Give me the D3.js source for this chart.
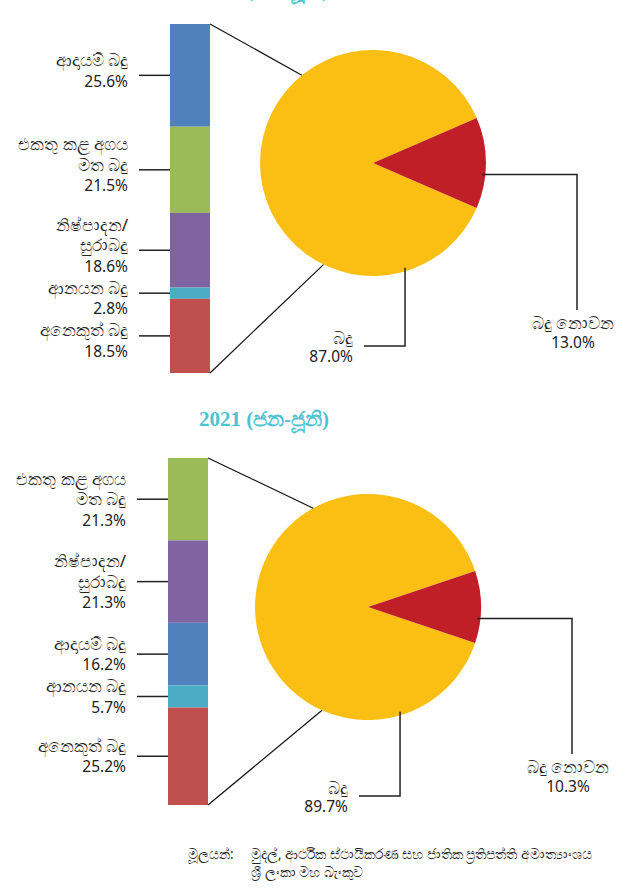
<!DOCTYPE html>
<html>
<head>
<meta charset="utf-8">
<script src="https://cdn.jsdelivr.net/npm/d3@7"></script>
<style>
  body { margin: 0; background: #fff; }
  svg { display: block; }
  .lbl { font-family: "Noto Sans", "DejaVu Sans", sans-serif; font-size: 15.5px; fill: #222; }
  .lbl .si { font-size: 17px; }
  .title { font-family: "Liberation Serif", "DejaVu Serif", serif; font-weight: bold; font-size: 21px; fill: #4cc3d2; }
  .src { font-family: "Noto Sans", "DejaVu Sans", sans-serif; font-size: 13.5px; fill: #222; }
</style>
</head>
<body>
<script>
// periods
var periods = ["2020 (ජන-ජූනි)", "2021 (ජන-ජූනි)"];

// tax breakdown (bar), top to bottom
var taxCats2020 = ["ආදායම් බදු", "එකතු කළ අගය\nමත බදු", "නිෂ්පාදන/\nසුරාබදු", "ආනයන බදු", "අනෙකුත් බදු"];
var taxVals2020 = [25.6, 21.5, 18.6, 2.8, 18.5];
var taxCats2021 = ["එකතු කළ අගය\nමත බදු", "නිෂ්පාදන/\nසුරාබදු", "ආදායම් බදු", "ආනයන බදු", "අනෙකුත් බදු"];
var taxVals2021 = [21.3, 21.3, 16.2, 5.7, 25.2];

// revenue split (pie)
var pieCats = ["බදු", "බදු නොවන"];
var pieVals2020 = [87.0, 13.0];
var pieVals2021 = [89.7, 10.3];

var sourceLines = ["මූලයන්:", "මුදල්, ආර්ථික ස්ථායීකරණ සහ ජාතික ප්‍රතිපත්ති අමාත්‍යාංශය", "ශ්‍රී ලංකා මහ බැංකුව"];

var w = 631, h = 896;

var catColor = d3.scaleOrdinal()
    .domain(["ආදායම් බදු", "එකතු කළ අගය\nමත බදු", "නිෂ්පාදන/\nසුරාබදු", "ආනයන බදු", "අනෙකුත් බදු"])
    .range(["#4f81bd", "#9bbb59", "#8064a2", "#4bacc6", "#c0504d"]);
var pieColor = d3.scaleOrdinal().domain(pieCats).range(["#fbbf14", "#c11f28"]);

var svg = d3.select("body").append("svg")
    .attr("width", w)
    .attr("height", h);

function fmt(v) { return v.toFixed(1) + "%"; }

// first line gets a 0.35em shift so y is the line's middle
function multiline(sel, lines, lh) {
    lines.forEach(function(t, i) {
        sel.append("tspan")
            .attr("class", /%$/.test(t) ? "num" : "si")
            .attr("x", sel.attr("x"))
            .attr("dy", i == 0 ? "0.35em" : lh)
            .text(t);
    });
}

function drawPanel(o) {
    var g = svg.append("g");

    // title
    g.append("text")
        .attr("class", "title")
        .attr("x", 264)
        .attr("y", o.titleY)
        .attr("text-anchor", "middle")
        .text(o.title);

    // stacked bar
    var total = d3.sum(o.vals);
    var y = d3.scaleLinear().domain([0, total]).range([o.barTop, o.barBottom]);
    var cum = 0;
    var segs = o.cats.map(function(c, i) {
        var s = {cat: c, value: o.vals[i], y0: cum, y1: cum + o.vals[i]};
        cum += o.vals[i];
        return s;
    });

    g.selectAll(".seg")
        .data(segs)
        .enter().append("rect")
        .attr("x", o.barX)
        .attr("y", function(d) { return y(d.y0); })
        .attr("width", o.barW)
        .attr("height", function(d) { return y(d.y1) - y(d.y0); })
        .attr("fill", function(d) { return catColor(d.cat); });

    // bar labels with leader lines
    var lh = 20.5, prevLast = -1e9;
    segs.forEach(function(d) {
        var my = (y(d.y0) + y(d.y1)) / 2;
        g.append("line")
            .attr("x1", o.barX - 31).attr("x2", o.barX)
            .attr("y1", my).attr("y2", my)
            .attr("stroke", "#222").attr("stroke-width", 1.5);
        var lines = d.cat.split("\n").concat([fmt(d.value)]);
        var first = my + o.labelShift - (lines.length - 1) * lh / 2;
        if (first - prevLast < 22) first = prevLast + 22;
        prevLast = first + (lines.length - 1) * lh;
        var t = g.append("text")
            .attr("class", "lbl")
            .attr("x", o.barX - 42)
            .attr("y", first)
            .attr("text-anchor", "end");
        multiline(t, lines, lh);
    });

    // pie
    var redFrac = o.pieVals[1] / d3.sum(o.pieVals);
    var s = Math.PI / 2 + Math.PI * redFrac;
    var pie = d3.pie().sort(null).startAngle(s).endAngle(s + 2 * Math.PI);
    var arcs = pie(o.pieVals);
    var arc = d3.arc().innerRadius(0).outerRadius(o.r);
    var pg = g.append("g").attr("transform", "translate(" + o.cx + "," + o.cy + ")");
    pg.selectAll("path")
        .data(arcs)
        .enter().append("path")
        .attr("d", arc)
        .attr("fill", function(d, i) { return pieColor(pieCats[i]); });

    function onCircle(deg, k) {
        var a = deg * Math.PI / 180;
        return [o.cx + o.r * (k || 1) * Math.sin(a), o.cy - o.r * (k || 1) * Math.cos(a)];
    }

    // connectors from bar to pie
    var p1 = onCircle(o.connTop), p2 = onCircle(o.connBot);
    g.append("line").attr("x1", o.barX + o.barW).attr("y1", o.barTop).attr("x2", p1[0]).attr("y2", p1[1])
        .attr("stroke", "#111").attr("stroke-width", 1.2);
    g.append("line").attr("x1", o.barX + o.barW).attr("y1", o.barBottom).attr("x2", p2[0]).attr("y2", p2[1])
        .attr("stroke", "#111").attr("stroke-width", 1.2);

    // tax slice label
    var a0 = onCircle(163, 0.97);
    var ly = o.cy + o.taxDrop;
    g.append("path")
        .attr("d", "M" + a0[0] + "," + a0[1] + "V" + ly + "H" + (o.cx - 9))
        .attr("fill", "none").attr("stroke", "#222").attr("stroke-width", 1.5);
    var t0 = g.append("text").attr("class", "lbl")
        .attr("x", o.cx - 20).attr("y", ly - 8)
        .attr("text-anchor", "end");
    multiline(t0, [pieCats[0], fmt(o.pieVals[0])], 18);

    // non-tax slice label
    var a1 = onCircle(96, 0.97);
    var rx = o.cx + 204, ry = o.cy + 147;
    g.append("path")
        .attr("d", "M" + a1[0] + "," + a1[1] + "H" + rx + "V" + ry)
        .attr("fill", "none").attr("stroke", "#222").attr("stroke-width", 1.5);
    var t1 = g.append("text").attr("class", "lbl")
        .attr("x", rx - 4).attr("y", ry + 13)
        .attr("text-anchor", "middle");
    multiline(t1, [pieCats[1], fmt(o.pieVals[1])], 19);
}

drawPanel({
    title: periods[0], titleY: -3,
    cats: taxCats2020, vals: taxVals2020, pieVals: pieVals2020,
    barX: 170, barW: 40, barTop: 24, barBottom: 373, labelShift: -5,
    cx: 373, cy: 163, r: 113, connTop: 321, connBot: 206, taxDrop: 183
});

drawPanel({
    title: periods[1], titleY: 426,
    cats: taxCats2021, vals: taxVals2021, pieVals: pieVals2021,
    barX: 168, barW: 40, barTop: 458, barBottom: 805, labelShift: 0,
    cx: 368, cy: 607, r: 113, connTop: 331, connBot: 204, taxDrop: 189
});

// source note
svg.append("text").attr("class", "src").attr("x", 188).attr("y", 859).text(sourceLines[0]);
svg.append("text").attr("class", "src").attr("x", 251).attr("y", 859).text(sourceLines[1]);
svg.append("text").attr("class", "src").attr("x", 251).attr("y", 877).text(sourceLines[2]);
</script>
</body>
</html>
